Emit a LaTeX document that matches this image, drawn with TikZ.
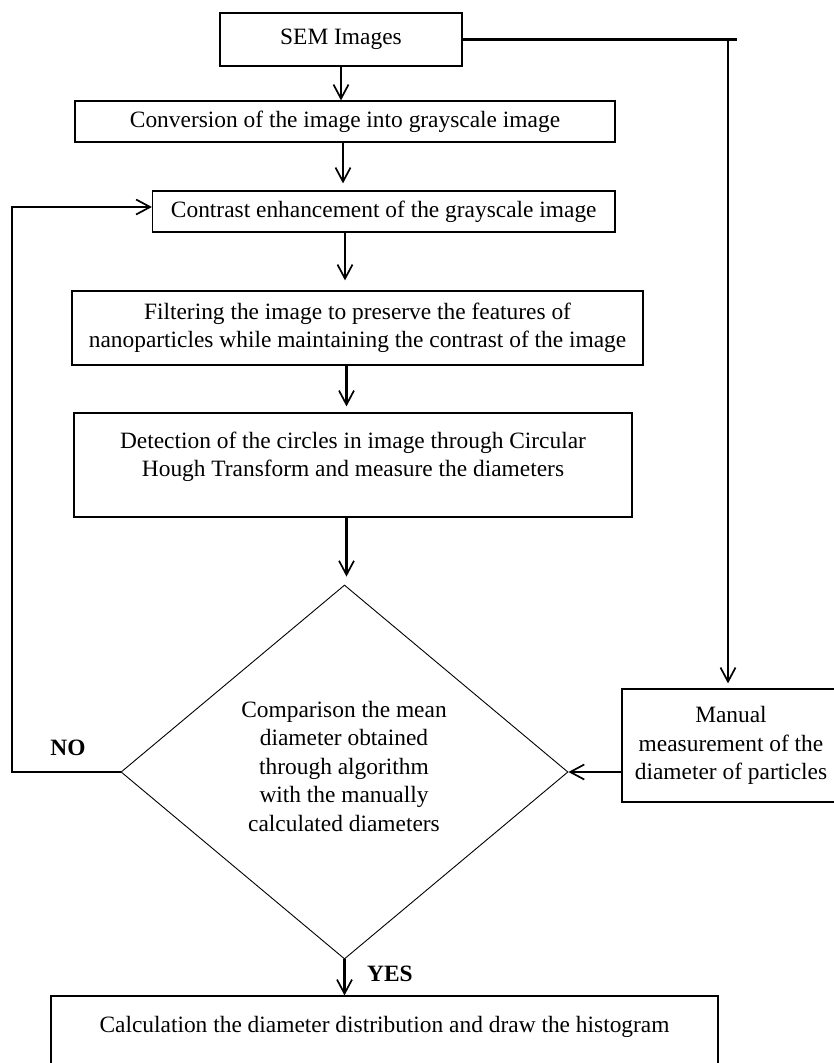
\documentclass[tikz,border=0pt]{standalone}
\usepackage{fontspec}
\setmainfont{Liberation Serif}
\usetikzlibrary{arrows.meta,shapes.geometric}
\begin{document}
\begin{tikzpicture}[x=1pt,y=-1pt,
  txt/.style={font=\fontsize{23.4}{28.5}\selectfont, align=center, inner sep=0pt},
  box/.style={draw, line width=1.2pt, inner sep=0pt, font=\fontsize{23.4}{28.5}\selectfont, align=center},
  conn/.style={line width=2.1pt},
  arr/.style={line width=2.1pt, -{Straight Barb[length=14pt,width=15pt,line width=1.7pt]}},
  lbl/.style={font=\fontsize{23.4}{28.5}\selectfont\bfseries, inner sep=0pt}]
\useasboundingbox (0,0) rectangle (834,1063);

\node[box, minimum width=242pt, minimum height=53pt] (sem) at (341,39.5) {SEM Images};
\node[box, minimum width=540pt, minimum height=41pt] (conv) at (345,121.5) {Conversion of the image into grayscale image};
\node[box, minimum width=462.5pt, minimum height=41pt] (contrast) at (383.75,211.5) {Contrast enhancement of the grayscale image};
\node[box, minimum width=571pt, minimum height=74pt] (filter) at (357.5,328) {Filtering the image to preserve the features of\\nanoparticles while maintaining the contrast of the image};
\node[box, minimum width=558pt, minimum height=104pt] (det) at (353,465) {};
\node[txt] (dett) at (353,457) {Detection of the circles in image through Circular\\Hough Transform and measure the diameters};
\node[draw, shape=diamond, line width=0.9pt, inner sep=0pt, minimum width=447pt, minimum height=374pt] (dia) at (344.5,772) {};
\node[txt] (diat) at (344,766) {Comparison the mean\\diameter obtained\\through algorithm\\with the manually\\calculated diameters};
\node[box, minimum width=218pt, minimum height=113pt] (manual) at (731,745.5) {Manual\\measurement of the\\diameter of particles};
\node[box, minimum width=667pt, minimum height=90pt] (final) at (384.5,1041) {};
\node[txt] (finalt) at (384.5,1027) {Calculation the diameter distribution and draw the histogram};
\node[lbl] (no) at (68,748) {NO};
\node[lbl] (yes) at (390,974) {YES};

\coordinate (rc) at (728,39.5);
\coordinate (rcx) at (737,39.5);

% main column
\draw[arr] (sem.south) -- (sem.south |- conv.north);
\draw[arr, shorten >=7pt] ([xshift=-2pt]conv.south) -- ([xshift=-2pt]conv.south |- contrast.north);
\draw[arr, shorten >=10pt] ([xshift=-38.75pt,yshift=2pt]contrast.south) -- ([xshift=-38.75pt]contrast.south |- filter.north);
\draw[arr, shorten >=6pt] ([xshift=-11pt]filter.south) -- ([xshift=-11pt]filter.south |- det.north);
\draw[arr, shorten >=8pt] ([xshift=-6.5pt]det.south) -- ([xshift=-6.5pt]det.south |- dia.north);
\draw[arr] (dia.south) -- (dia.south |- final.north);

% right branch
\draw[conn] (sem.east) -- (rcx);
\draw[arr, shorten >=5pt] (rc) -- (rc |- manual.north);
\draw[arr] (dia.east -| manual.west) -- (dia.east);

% NO loop
\draw[arr] (dia.west) -- ++(-109,0) |- ([yshift=4.5pt]contrast.west);
\end{tikzpicture}
\end{document}
